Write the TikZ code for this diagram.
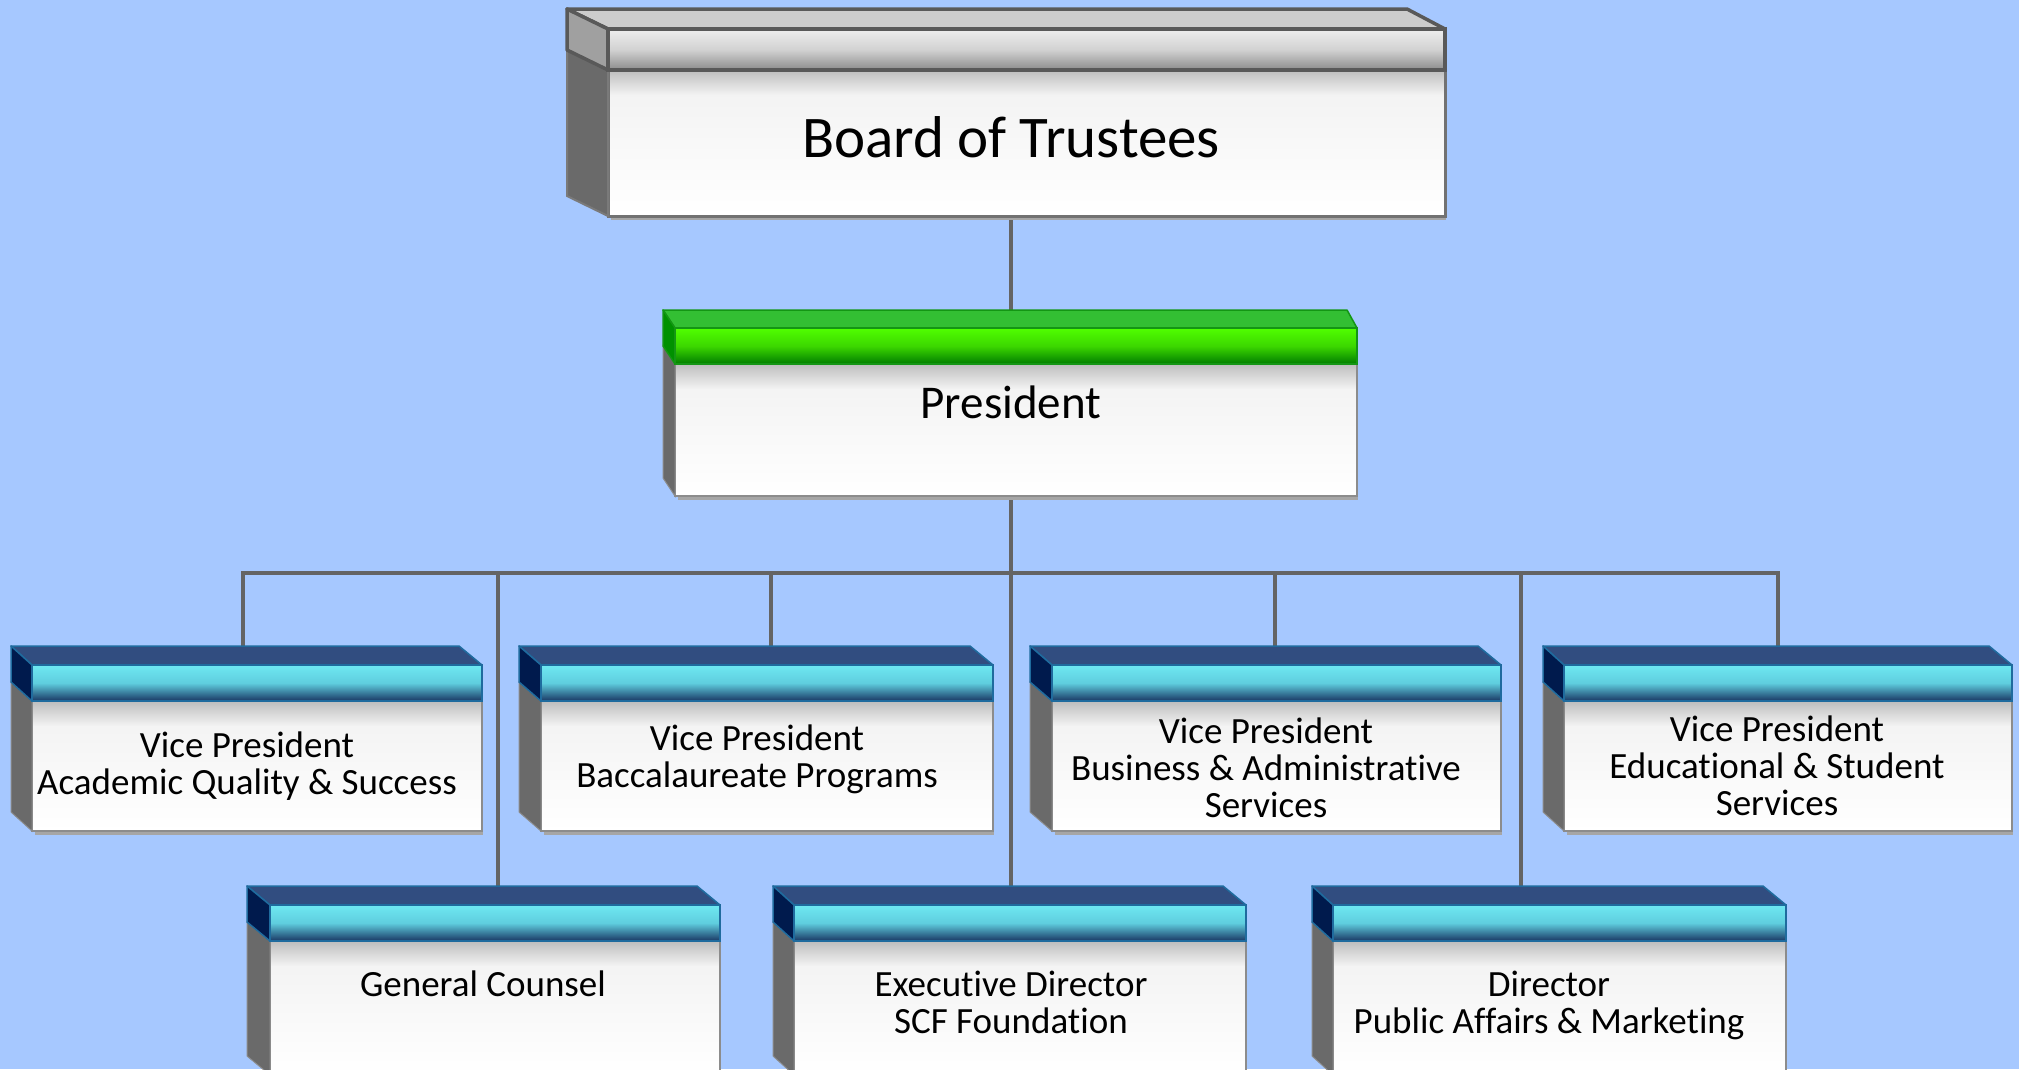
\documentclass[tikz,border=0pt]{standalone}
\usepackage{fontspec}
\setmainfont{Carlito}[Ligatures=NoCommon]
\usepackage{tikz}
\usetikzlibrary{calc}
\usepackage{xcolor}

\definecolor{bgblue}{RGB}{166,200,255}
\definecolor{linegray}{RGB}{100,100,100}
\definecolor{sidegray}{RGB}{106,106,106}
\definecolor{bodyedge}{RGB}{140,140,140}
\definecolor{bodytop}{RGB}{190,190,190}
\definecolor{bodymid}{RGB}{241,241,241}

\definecolor{boardtop}{RGB}{204,204,204}
\definecolor{boardend}{RGB}{160,160,160}
\definecolor{boardedge}{RGB}{89,89,89}
\definecolor{boardbarA}{RGB}{238,238,238}
\definecolor{boardbarB}{RGB}{210,210,210}
\definecolor{boardbarC}{RGB}{140,140,140}

\definecolor{prestop}{RGB}{51,191,51}
\definecolor{presend}{RGB}{0,145,0}
\definecolor{presedge}{RGB}{20,150,20}
\definecolor{presbarA}{RGB}{80,255,0}
\definecolor{presbarB}{RGB}{60,215,0}
\definecolor{presbarC}{RGB}{0,125,0}

\definecolor{vptop}{RGB}{49,77,128}
\definecolor{vpend}{RGB}{0,26,77}
\definecolor{vpedge}{RGB}{31,107,158}
\definecolor{vpbarA}{RGB}{110,232,242}
\definecolor{vpbarB}{RGB}{95,205,222}
\definecolor{vpbarC}{RGB}{25,55,100}

\pgfdeclarelayer{back}
\pgfsetlayers{back,main}

\tikzset{
    conn/.style={draw=linegray, line width=3.2pt},
    txt/.style={align=center, inner sep=0pt, font=\fontsize{37}{37}\selectfont},
    body/.style={top color=bodymid, bottom color=white},
    body shadow/.style={top color=bodytop, bottom color=bodymid},
    board top/.style={fill=boardtop, draw=boardedge, line width=3.5pt, line join=round},
    board end/.style={fill=boardend, draw=boardedge, line width=3.5pt, line join=round},
    board bar/.style={top color=boardbarA, bottom color=boardbarC, middle color=boardbarB},
    board edge/.style={draw=boardedge, line width=3.5pt},
    board side/.style={fill=sidegray, draw=boardedge!80, line width=2pt},
    board body edge/.style={draw=boardedge!85, line width=3pt},
    pres top/.style={fill=prestop, draw=presedge, line width=1.5pt, line join=round},
    pres end/.style={fill=presend, draw=presedge, line width=1.5pt, line join=round},
    pres bar/.style={top color=presbarA, bottom color=presbarC, middle color=presbarB},
    pres edge/.style={draw=presedge, line width=1.5pt},
    pres side/.style={fill=sidegray, draw=bodyedge, line width=1pt},
    pres body edge/.style={draw=bodyedge, line width=2pt},
    vp top/.style={fill=vptop, draw=vpedge, line width=1.5pt, line join=round},
    vp end/.style={fill=vpend, draw=vpedge, line width=1.5pt, line join=round},
    vp bar/.style={top color=vpbarA, bottom color=vpbarC, middle color=vpbarB},
    vp edge/.style={draw=vpedge, line width=1.5pt},
    vp side/.style={fill=sidegray, draw=bodyedge, line width=1pt},
    vp body edge/.style={draw=bodyedge, line width=2pt}
}

% #1 kind, #2 left, #3 top, #4 right, #5 bar bottom, #6 bottom, #7 dx, #8 dy, #9 inset
\newcommand{\orgbox}[9]{%
    \fill[black!35] (#2+3,#6) rectangle (#4+1,#6+4);
    \shade[body] (#2,#5) rectangle (#4,#6);
    \shade[body shadow] (#2,#5) rectangle (#4,#5+24);
    \draw[#1 body edge] (#2,#5) rectangle (#4,#6);
    \filldraw[#1 side] (#2-#7,#5-#8) -- (#2,#5) -- (#2,#6) -- (#2-#7,#6-#8) -- cycle;
    \shade[#1 bar] (#2,#3) rectangle (#4,#5);
    \filldraw[#1 top] (#2-#7,#3-#8) -- (#4-#9,#3-#8) -- (#4,#3) -- (#2,#3) -- cycle;
    \filldraw[#1 end] (#2-#7,#3-#8) -- (#2,#3) -- (#2,#5) -- (#2-#7,#5-#8) -- cycle;
    \draw[#1 edge] (#2,#3) rectangle (#4,#5);
}

\begin{document}
\begin{tikzpicture}[x=1pt, y=-1pt]

    \useasboundingbox (0,0) rectangle (2019,1069);

    % boxes
    \orgbox{board}{608}{29}{1445}{70}{216}{41}{20}{38}
    \orgbox{pres}{675}{328}{1357}{364}{496}{12}{18}{10}
    \orgbox{vp}{32}{665}{482}{701}{831}{21}{19}{23}
    \orgbox{vp}{541}{665}{993}{701}{831}{22}{19}{23}
    \orgbox{vp}{1052}{665}{1501}{701}{831}{22}{19}{23}
    \orgbox{vp}{1564}{665}{2012}{701}{831}{21}{19}{23}
    \orgbox{vp}{270}{905}{720}{941}{1075}{23}{19}{23}
    \orgbox{vp}{794}{905}{1246}{941}{1075}{21}{19}{23}
    \orgbox{vp}{1333}{905}{1786}{941}{1075}{21}{19}{23}

    % titles
    \node[txt, font=\fontsize{59}{59}\selectfont] (board) at (1011,137) {Board of Trustees};
    \node[txt, font=\fontsize{47}{47}\selectfont] (pres) at (1011,402) {President};
    \node[txt] (vp1) at (247,766) {Vice President\\Academic Quality \& Success};
    \node[txt] (vp2) at (757,759) {Vice President\\Baccalaureate Programs};
    \node[txt] (vp3) at (1266,768) {Vice President\\Business \& Administrative\\Services};
    \node[txt] (vp4) at (1777,766) {Vice President\\Educational \& Student\\Services};
    \node[txt] (gc) at (483,984) {General Counsel};
    \node[txt] (ed) at (1011,1002) {Executive Director\\SCF Foundation};
    \node[txt] (dir) at (1549,1005) {Director\\Public Affairs \& Marketing};

    % connectors
    \coordinate (bus) at (1011,573);
    \coordinate (vp1in) at (243,660);
    \coordinate (vp2in) at (771,660);
    \coordinate (vp3in) at (1275,660);
    \coordinate (vp4in) at (1778,660);
    \coordinate (gcin) at (498,900);
    \coordinate (dirin) at (1521,900);

    \begin{pgfonlayer}{back}
    \fill[bgblue] (0,0) rectangle (2019,1069);
    \draw[conn] (board) -- (pres);
    \draw[conn] (pres) -- (ed);
    \draw[conn] (vp1in) |- (vp4in |- bus) -- (vp4in);
    \foreach \d in {vp2in,vp3in,gcin,dirin}
        \draw[conn] (\d |- bus) -- (\d);
    \end{pgfonlayer}
\end{tikzpicture}
\end{document}
